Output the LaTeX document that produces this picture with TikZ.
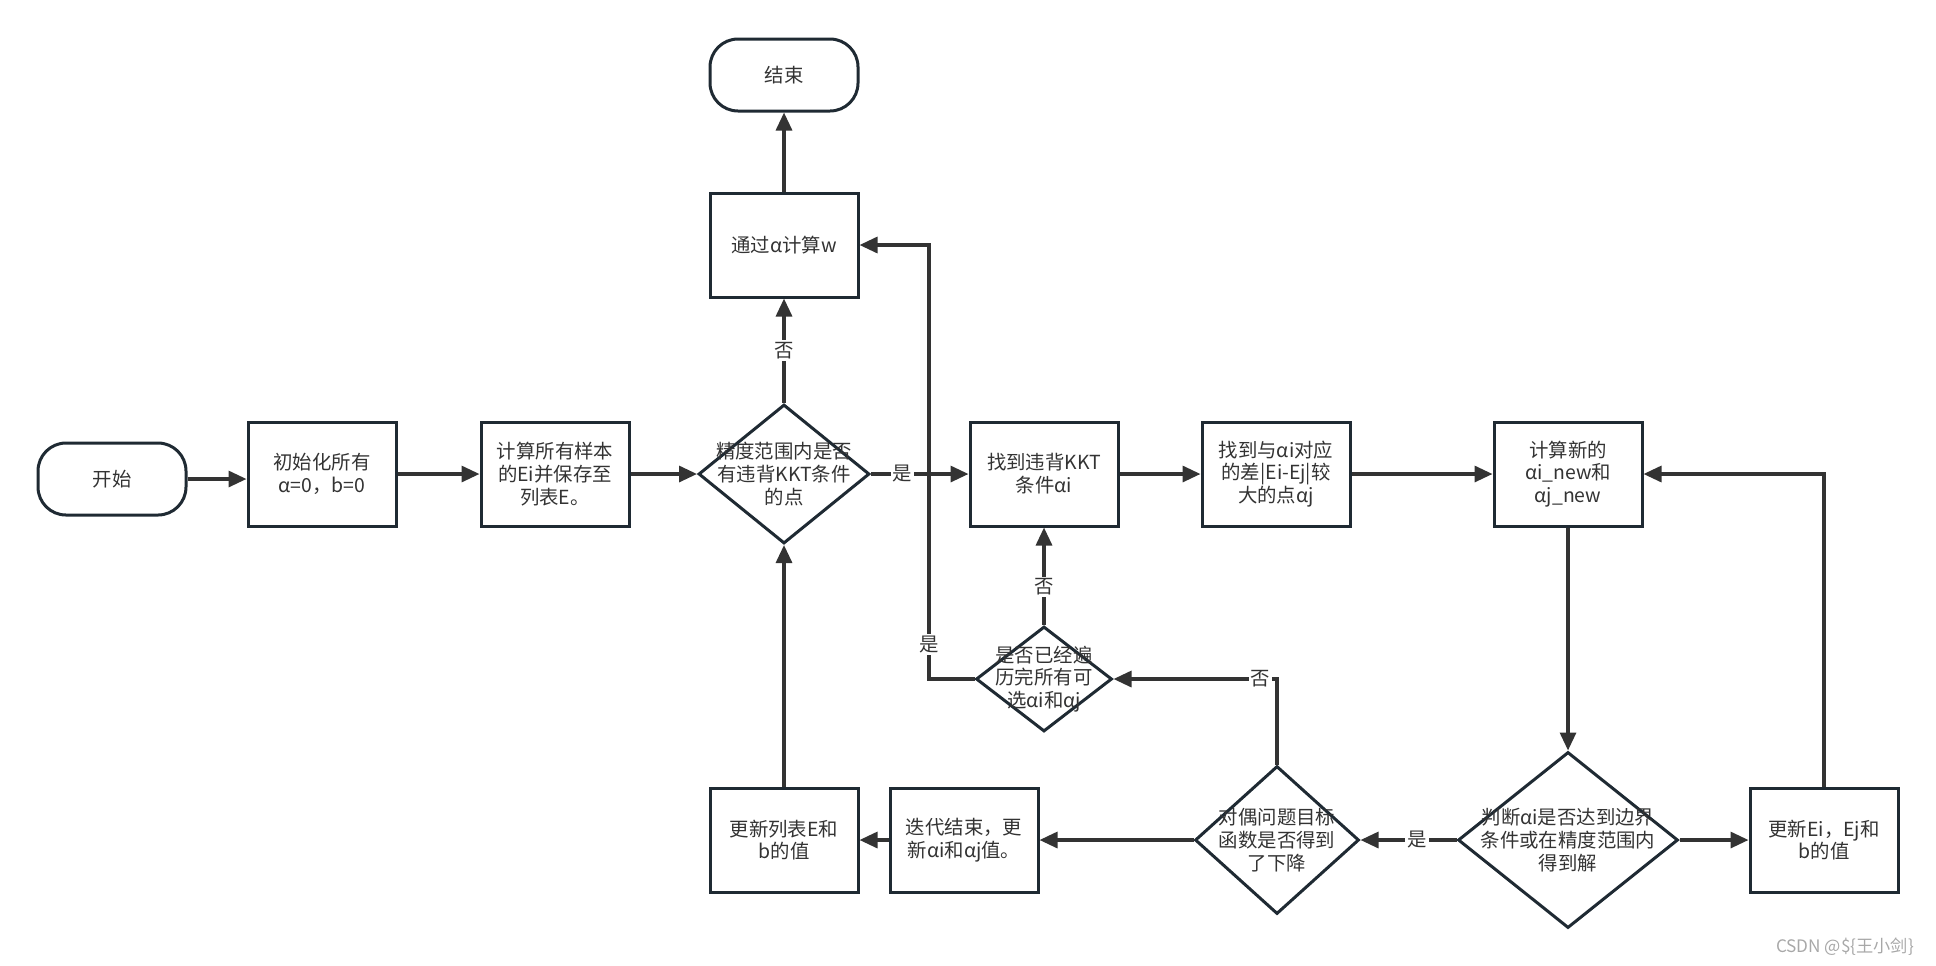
\documentclass[tikz,border=0pt]{standalone}
\usepackage{fontspec}
\setmainfont{Noto Sans CJK SC}
\usetikzlibrary{arrows.meta,shapes.geometric}
\definecolor{lineclr}{HTML}{333333}
\definecolor{boxclr}{HTML}{1F2A33}
\definecolor{ink}{HTML}{333333}
\definecolor{wmgray}{HTML}{A8A8A8}

\begin{document}
\begin{tikzpicture}[
  x=0.5pt, y=-0.5pt,
  font=\fontsize{9.7}{11.4}\selectfont, text=ink,
  box/.style={draw=boxclr, line width=1.5pt, minimum width=74pt, minimum height=52pt, align=center, inner sep=2pt},
  term/.style={draw=boxclr, line width=1.5pt, rounded corners=14pt, minimum width=74pt, minimum height=36pt},
  dec/.style={draw=boxclr, line width=1.5pt, diamond, inner sep=0pt},
  ar/.style={-{Triangle[length=9pt,width=8pt]}, line width=1.6pt, lineclr},
  lab/.style={fill=white, inner sep=1pt}
]
\useasboundingbox (0,0) rectangle (1936,965);

% main row
\node[term] (start) at (112,479) {开始};
\node[box] (init) at (322,474) {初始化所有\\α=0，b=0};
\node[box] (calc) at (555,474) {计算所有样本\\的Ei并保存至\\列表E。};
\node[dec, minimum width=85.5pt, minimum height=69.5pt,
  label={[align=center]center:{精度范围内是否\\有违背KKT条件\\的点}}] (d1) at (784,474) {};
\node[box] (kkt) at (1044,474) {找到违背KKT\\条件αi};
\node[box] (find) at (1276,474) {找到与αi对应\\的差|Ei-Ej|较\\大的点αj};
\node[box] (newa) at (1568,474) {计算新的\\αi\_new和\\αj\_new};

% top
\node[box] (w) at (784,245) {通过α计算w};
\node[term] (end) at (784,75) {结束};

% middle / bottom row
\node[dec, minimum width=68pt, minimum height=52.5pt,
  label={[align=center]center:{是否已经遍\\历完所有可\\选αi和αj}}] (d2) at (1044,679) {};
\node[dec, minimum width=82pt, minimum height=74pt,
  label={[align=center]center:{对偶问题目标\\函数是否得到\\了下降}}] (d3) at (1277,840) {};
\node[dec, minimum width=110pt, minimum height=88pt,
  label={[align=center]center:{判断αi是否达到边界\\条件或在精度范围内\\得到解}}] (d4) at (1568,840) {};
\node[box] (upd) at (1824,840) {更新Ei，Ej和\\b的值};
\node[box] (iter) at (964,840) {迭代结束，更\\新αi和αj值。};
\node[box] (updE) at (784,840) {更新列表E和\\b的值};

\node[anchor=east, text=wmgray, font=\fontsize{8.6}{10}\selectfont] (wm) at (1921,947) {CSDN @\$\{王小剑\}};

\coordinate (lp) at (929,245);

\draw[ar] (start) -- (start -| init.west);
\draw[ar] (init) -- (calc);
\draw[ar] (calc) -- (d1);
\draw[ar] (d1) -- node[lab, pos=.32]{是} (kkt);
\draw[ar] (d1) -- node[lab]{否} (w);
\draw[ar] (w) -- (end);
\draw[ar] (kkt) -- (find);
\draw[ar] (find) -- (newa);
\draw[ar] (newa) -- (d4);
\draw[ar] (d4) -- (upd);
\draw[ar] (upd.north) |- (newa.east);
\draw[ar] (d4) -- node[lab, pos=.41]{是} (d3);
\draw[ar] (d3) -- (iter);
\draw[ar] (iter) -- (updE);
\draw[ar] (updE) -- (d1);
\draw[ar] (d3.north) |- node[lab, pos=.55]{否} (d2.east);
\draw[ar] (d2) -- node[lab, pos=.39]{否} (kkt);
\draw[ar] (d2.west) -| node[lab, pos=.54]{是} (lp) -- (w.east);
\end{tikzpicture}
\end{document}
